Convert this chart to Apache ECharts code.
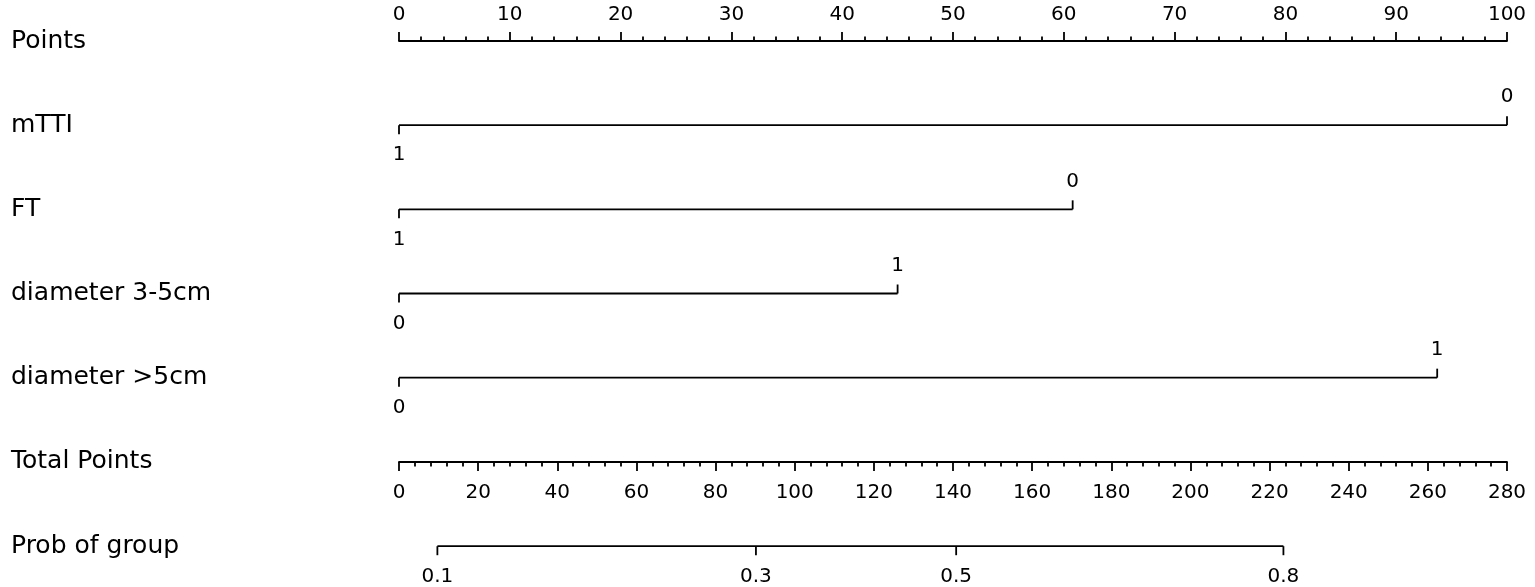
<!DOCTYPE html>
<html>
<head>
<meta charset="utf-8">
<script src="https://cdn.jsdelivr.net/npm/echarts@6/dist/echarts.min.js"></script>
<style>html,body{margin:0;padding:0;background:#fff}#c{width:1535px;height:587px}</style>
</head>
<body>
<div id="c"></div>
<script>
// ---- data ----
const rowNames = ['Points', 'mTTI', 'FT', 'diameter 3-5cm', 'diameter >5cm', 'Total Points', 'Prob of group'];
const pointsTicks = [0, 10, 20, 30, 40, 50, 60, 70, 80, 90, 100];
const totalTicks = [0, 20, 40, 60, 80, 100, 120, 140, 160, 180, 200, 220, 240, 260, 280];
const mttiLevels = ['1', '0'];
const mttiPoints = [0, 100];
const ftLevels = ['1', '0'];
const ftPoints = [0, 60.8];
const d35Levels = ['0', '1'];
const d35Points = [0, 45.0];
const d5Levels = ['0', '1'];
const d5Points = [0, 93.7];
const probTicks = [0.1, 0.3, 0.5, 0.8];
const probTotalPoints = [9.7, 90.2, 140.8, 223.5];

const predictorLevels = [mttiLevels, ftLevels, d35Levels, d5Levels];
const predictorPoints = [mttiPoints, ftPoints, d35Points, d5Points];
const predictorRows = [1, 2, 3, 4];
const probRow = 6;

const INK = '#000';
const FONT = '"DejaVu Sans", Arial, sans-serif';
const TICK_FS = 20;
const ROW_FS = 25;
const LW = 1.8;

const chart = echarts.init(document.getElementById('c'), null, {renderer: 'canvas'});

const predictorData = predictorRows.map((r, i) => [predictorPoints[i][0], predictorPoints[i][1], r]);
const probData = probTotalPoints.map(p => [p, probRow]);

function lineEl(x1, y1, x2, y2) {
  return {type: 'line', shape: {x1, y1, x2, y2}, style: {stroke: INK, lineWidth: LW}};
}
function textEl(x, y, t) {
  return {type: 'text', x, y, style: {text: t, fill: INK, font: TICK_FS + 'px ' + FONT, align: 'center', verticalAlign: 'middle'}};
}

function renderPredictor(params, api) {
  const i = params.dataIndex;
  const y = api.value(2);
  const a = api.coord([api.value(0), y]);
  const b = api.coord([api.value(1), y]);
  const lv = predictorLevels[i];
  return {type: 'group', children: [
    lineEl(a[0], a[1], b[0], b[1]),
    lineEl(a[0], a[1], a[0], a[1] + 9),
    lineEl(b[0], b[1], b[0], b[1] - 9),
    textEl(a[0], a[1] + 30, lv[0]),
    textEl(b[0], b[1] - 28, lv[1])
  ]};
}

function renderProb(params, api) {
  const i = params.dataIndex;
  const p = api.coord([api.value(0), api.value(1)]);
  const children = [
    lineEl(p[0], p[1], p[0], p[1] + 9),
    textEl(p[0], p[1] + 31, String(probTicks[i]))
  ];
  if (i === 0) {
    const last = api.coord([probTotalPoints[probTotalPoints.length - 1], api.value(1)]);
    children.unshift(lineEl(p[0], p[1], last[0], last[1]));
  }
  return {type: 'group', children};
}

const option = {
  backgroundColor: '#fff',
  animation: false,
  textStyle: {fontFamily: FONT},
  grid: [
    {left: 399, right: 28, top: 41, height: 505},
    {left: 399, right: 28, top: 41, height: 421}
  ],
  xAxis: [
    {
      gridIndex: 0, type: 'value', position: 'top', min: 0, max: 100, interval: 10,
      axisLine: {show: true, onZero: false, lineStyle: {color: INK, width: LW}},
      axisTick: {show: true, length: 9, lineStyle: {color: INK, width: LW}},
      minorTick: {show: true, splitNumber: 5, length: 4.5, lineStyle: {color: INK, width: LW}},
      axisLabel: {show: true, color: INK, fontSize: TICK_FS, fontFamily: FONT, margin: 16,
        formatter: v => pointsTicks.includes(v) ? String(v) : ''},
      splitLine: {show: false}
    },
    {
      gridIndex: 1, type: 'value', position: 'bottom', min: 0, max: 280, interval: 20,
      axisLine: {show: true, onZero: false, lineStyle: {color: INK, width: LW}},
      axisTick: {show: true, length: 9, lineStyle: {color: INK, width: LW}},
      minorTick: {show: true, splitNumber: 5, length: 4.5, lineStyle: {color: INK, width: LW}},
      axisLabel: {show: true, color: INK, fontSize: TICK_FS, fontFamily: FONT, margin: 21,
        formatter: v => totalTicks.includes(v) ? String(v) : ''},
      splitLine: {show: false}
    }
  ],
  yAxis: [
    {
      gridIndex: 0, type: 'value', min: 0, max: 6, interval: 1, inverse: true,
      axisLine: {show: false}, axisTick: {show: false}, splitLine: {show: false},
      axisLabel: {show: true, color: INK, fontSize: ROW_FS, fontFamily: FONT, align: 'left', margin: 388,
        padding: [9, 0, 0, 0],
        formatter: v => rowNames[v] || ''}
    },
    {
      gridIndex: 1, type: 'value', min: 0, max: 5, interval: 1, inverse: true, show: false
    }
  ],
  series: [
    {type: 'custom', xAxisIndex: 0, yAxisIndex: 0, renderItem: renderPredictor, data: predictorData, clip: false, silent: true},
    {type: 'custom', xAxisIndex: 1, yAxisIndex: 1, renderItem: renderProb, data: probData, clip: false, silent: true}
  ]
};
chart.setOption(option);
</script>
</body>
</html>
